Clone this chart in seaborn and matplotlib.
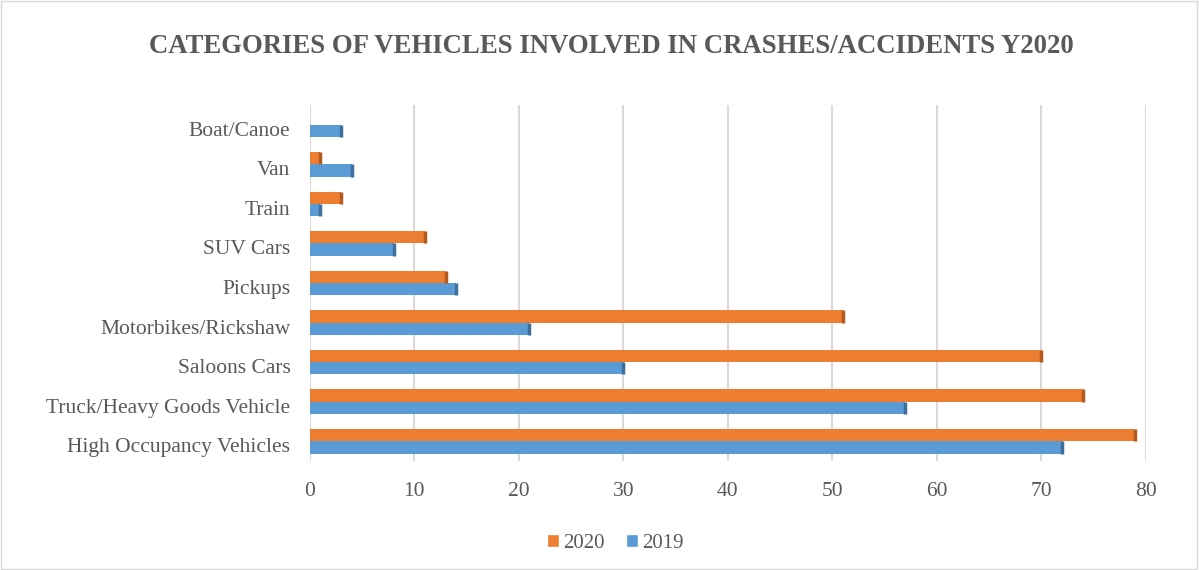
import matplotlib
matplotlib.use("Agg")
import matplotlib.pyplot as plt
import matplotlib.transforms as mtransforms
import seaborn as sns
import pandas as pd
from matplotlib.patches import Patch

# Chart values
categories = ["Boat/Canoe", "Van", "Train", "SUV Cars", "Pickups",
              "Motorbikes/Rickshaw", "Saloons Cars",
              "Truck/Heavy Goods Vehicle", "High Occupancy Vehicles"]
values_2020 = [0, 1, 3, 11, 13, 51, 70, 74, 79]
values_2019 = [3, 4, 1, 8, 14, 21, 30, 57, 72]
years = ["2020", "2019"]
x_ticks = [0, 10, 20, 30, 40, 50, 60, 70, 80]

colors = {"2020": "#ED7D31", "2019": "#5B9BD5"}
text_grey = "#595959"

df = pd.DataFrame({
    "category": categories * 2,
    "count": values_2020 + values_2019,
    "year": ["2020"] * len(categories) + ["2019"] * len(categories),
})

sns.set_style("white")
plt.rcParams["font.family"] = ["Liberation Serif", "DejaVu Serif"]

fig = plt.figure(figsize=(11.99, 5.70), dpi=100)
ax = fig.add_axes([0.2585, 0.191, 0.697, 0.625])

sns.barplot(data=df, y="category", x="count", hue="year", hue_order=years,
            order=categories, palette=colors, orient="h", width=0.62,
            saturation=1, edgecolor="none", ax=ax, legend=False)

# darker right edge to hint at the 3D bars
for bar, yr in zip(ax.patches, [y for y in years for _ in categories]):
    if bar.get_width() > 0:
        shade = "#B35A1F" if yr == "2020" else "#3D6E9C"
        ax.plot([bar.get_x() + bar.get_width()] * 2,
                [bar.get_y(), bar.get_y() + bar.get_height()],
                color=shade, lw=2.5, solid_capstyle="butt")

ax.set_ylim(len(categories) - 0.5, -0.5)
ax.set_xlim(0, 80)
ax.set_xticks(x_ticks)
ax.set_xticklabels([str(t) for t in x_ticks])
ax.xaxis.grid(True, color="#D9D9D9", lw=1.5)
ax.set_axisbelow(True)
ax.set_ylabel("")
ax.set_xlabel("")
for s in ax.spines.values():
    s.set_visible(False)
ax.tick_params(axis="both", length=0, labelsize=15.5, colors=text_grey)
ax.tick_params(axis="x", pad=15)
ax.tick_params(axis="y", pad=14)

# category labels sit a little lower in the original
shift = mtransforms.ScaledTranslation(0, -4 / 100, fig.dpi_scale_trans)
for lbl in ax.get_yticklabels():
    lbl.set_transform(lbl.get_transform() + shift)

fig.suptitle("CATEGORIES OF VEHICLES INVOLVED IN CRASHES/ACCIDENTS Y2020",
             x=0.51, y=0.94, fontsize=19.3, fontweight="bold", color=text_grey)

handles = [Patch(facecolor=colors[y], label=y) for y in years]
fig.legend(handles=handles, loc="center", bbox_to_anchor=(0.513, 0.047),
           ncol=2, frameon=False, fontsize=15, handlelength=0.6,
           handleheight=0.6, columnspacing=1.0, handletextpad=0.2,
           labelcolor=text_grey)

fig.patches.append(plt.Rectangle((0.001, 0.001), 0.997, 0.997,
                                 transform=fig.transFigure, fill=False,
                                 edgecolor="#D9D9D9", lw=1))

fig.savefig("out.png", dpi=100)
